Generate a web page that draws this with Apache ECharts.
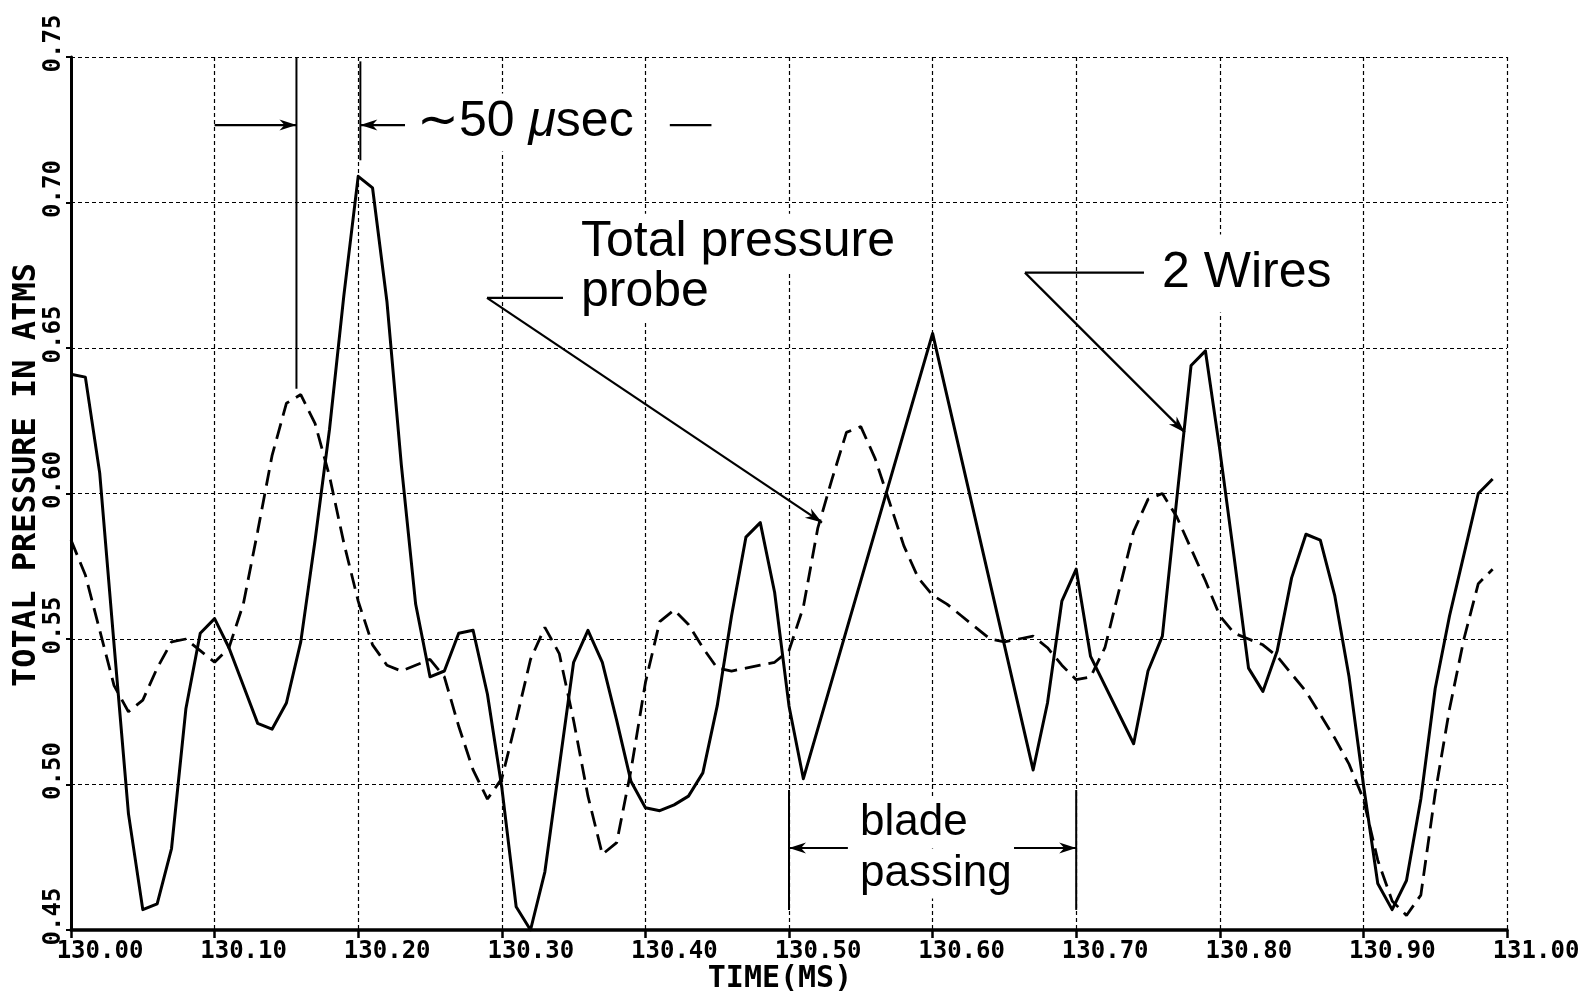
<!DOCTYPE html>
<html>
<head>
<meta charset="utf-8">
<script src="https://cdn.jsdelivr.net/npm/echarts@6/dist/echarts.min.js"></script>
<style>
  html, body { margin: 0; padding: 0; background: #fff; }
  #chart { width: 1583px; height: 995px; }
</style>
</head>
<body>
<div id="chart"></div>
<script>
// Hot-wire trace ("2 Wires"), time in ms and total pressure in atm
const wireTime = [
  130.00, 130.01, 130.02, 130.03, 130.04, 130.05, 130.06, 130.07, 130.08, 130.09,
  130.10, 130.11, 130.12, 130.13, 130.14, 130.15, 130.16, 130.17, 130.18, 130.19,
  130.20, 130.21, 130.22, 130.23, 130.24, 130.25, 130.26, 130.27, 130.28, 130.29,
  130.30, 130.31, 130.32, 130.33, 130.34, 130.35, 130.36, 130.37, 130.38, 130.39,
  130.40, 130.41, 130.42, 130.43, 130.44, 130.45, 130.46, 130.47, 130.48, 130.49,
  130.50, 130.51, 130.60, 130.67, 130.68, 130.69, 130.70, 130.71, 130.74, 130.75,
  130.76, 130.77, 130.78, 130.79, 130.80, 130.81, 130.82, 130.83, 130.84, 130.85,
  130.86, 130.87, 130.88, 130.89, 130.90, 130.91, 130.92, 130.93, 130.94, 130.95,
  130.96, 130.97, 130.98, 130.99
];
const wirePressure = [
  0.641, 0.640, 0.607, 0.548, 0.490, 0.457, 0.459, 0.478, 0.526, 0.552,
  0.557, 0.547, 0.534, 0.521, 0.519, 0.528, 0.549, 0.584, 0.622, 0.668,
  0.709, 0.705, 0.666, 0.610, 0.562, 0.537, 0.539, 0.552, 0.553, 0.531,
  0.499, 0.458, 0.450, 0.470, 0.506, 0.542, 0.553, 0.542, 0.522, 0.501,
  0.492, 0.491, 0.493, 0.496, 0.504, 0.527, 0.558, 0.585, 0.590, 0.566,
  0.527, 0.502, 0.655, 0.505, 0.528, 0.563, 0.574, 0.544, 0.514, 0.539,
  0.551, 0.598, 0.644, 0.649, 0.615, 0.578, 0.540, 0.532, 0.546, 0.571,
  0.586, 0.584, 0.565, 0.537, 0.500, 0.466, 0.457, 0.467, 0.495, 0.533,
  0.558, 0.579, 0.600, 0.605
];

// Total pressure probe trace
const probeTime = [
  130.00, 130.01, 130.02, 130.03, 130.04, 130.05, 130.06, 130.07, 130.08, 130.09,
  130.10, 130.11, 130.12, 130.13, 130.14, 130.15, 130.16, 130.17, 130.18, 130.19,
  130.20, 130.21, 130.22, 130.23, 130.24, 130.25, 130.26, 130.27, 130.28, 130.29,
  130.30, 130.31, 130.32, 130.33, 130.34, 130.35, 130.36, 130.37, 130.38, 130.39,
  130.40, 130.41, 130.42, 130.43, 130.44, 130.45, 130.46, 130.47, 130.48, 130.49,
  130.50, 130.51, 130.52, 130.53, 130.54, 130.55, 130.56, 130.57, 130.58, 130.59,
  130.60, 130.61, 130.62, 130.63, 130.64, 130.65, 130.66, 130.67, 130.68, 130.69,
  130.70, 130.71, 130.72, 130.73, 130.74, 130.75, 130.76, 130.77, 130.78, 130.79,
  130.80, 130.81, 130.82, 130.83, 130.84, 130.85, 130.86, 130.87, 130.88, 130.89,
  130.90, 130.91, 130.92, 130.93, 130.94, 130.95, 130.96, 130.97, 130.98, 130.99
];
const probePressure = [
  0.584, 0.572, 0.553, 0.534, 0.525, 0.529, 0.540, 0.549, 0.550, 0.546,
  0.542, 0.547, 0.562, 0.587, 0.613, 0.631, 0.634, 0.624, 0.606, 0.583,
  0.563, 0.548, 0.541, 0.539, 0.541, 0.543, 0.537, 0.520, 0.505, 0.495,
  0.502, 0.522, 0.543, 0.554, 0.545, 0.522, 0.496, 0.476, 0.480, 0.505,
  0.535, 0.556, 0.560, 0.555, 0.547, 0.540, 0.539, 0.540, 0.541, 0.542,
  0.546, 0.561, 0.588, 0.605, 0.621, 0.623, 0.612, 0.597, 0.582, 0.571,
  0.565, 0.562, 0.558, 0.554, 0.550, 0.549, 0.550, 0.551, 0.547, 0.541,
  0.536, 0.537, 0.547, 0.567, 0.587, 0.598, 0.600, 0.592, 0.581, 0.570,
  0.558, 0.552, 0.550, 0.548, 0.544, 0.538, 0.532, 0.524, 0.516, 0.507,
  0.495, 0.474, 0.460, 0.455, 0.462, 0.497, 0.526, 0.550, 0.569, 0.574
];

const timeRange = [130.00, 131.00];
const pressureRange = [0.45, 0.75];

const MONO = '"DejaVu Sans Mono", monospace';
const SANS = '"Liberation Sans", "DejaVu Sans", sans-serif';

const chart = echarts.init(document.getElementById('chart'), null, { renderer: 'canvas' });

const gridLine = { show: true, lineStyle: { color: '#000', width: 1.2, type: [4, 3] } };

chart.setOption({
  animation: false,
  backgroundColor: '#fff',
  grid: { left: 71, right: 76, top: 57, bottom: 65, containLabel: false, outerBoundsMode: 'none' },
  xAxis: {
    type: 'value',
    min: timeRange[0], max: timeRange[1], interval: 0.1,
    name: 'TIME(MS)',
    nameLocation: 'middle',
    nameGap: 34,
    nameMoveOverlap: false,
    nameTextStyle: { fontFamily: MONO, fontWeight: 'bold', fontSize: 30, color: '#000', padding: [0, 18, 0, 0] },
    axisLine: { show: true, onZero: false, lineStyle: { color: '#000', width: 3.5 } },
    axisTick: { show: true, inside: false, length: 8, lineStyle: { color: '#000', width: 2.5 } },
    axisLabel: {
      show: true, margin: 10, showMinLabel: true, showMaxLabel: true, hideOverlap: false,
      formatter: v => '{t|' + v.toFixed(2) + '}',
      rich: { t: { fontFamily: MONO, fontWeight: 'bold', fontSize: 24, color: '#000', padding: [0, 0, 0, 58] } }
    },
    splitLine: gridLine
  },
  yAxis: {
    type: 'value',
    min: pressureRange[0], max: pressureRange[1], interval: 0.05,
    name: 'TOTAL PRESSURE IN ATMS',
    nameLocation: 'middle',
    nameRotate: 90,
    nameGap: 28,
    nameMoveOverlap: false,
    nameTextStyle: { fontFamily: MONO, fontWeight: 'bold', fontSize: 32, color: '#000', padding: [0, 0, 0, 37] },
    axisLine: { show: true, onZero: false, lineStyle: { color: '#000', width: 3 } },
    axisTick: { show: true, inside: false, length: 5, lineStyle: { color: '#000', width: 2 } },
    axisLabel: {
      show: true, rotate: 90, margin: 5, showMinLabel: true, showMaxLabel: true, hideOverlap: false,
      formatter: v => '{t|' + v.toFixed(2) + '}',
      rich: { t: { fontFamily: MONO, fontWeight: 'bold', fontSize: 24, color: '#000', padding: [0, 0, 0, 27] } }
    },
    splitLine: gridLine
  },
  series: [
    {
      name: '2 Wires',
      type: 'line',
      data: wireTime.map((t, i) => [t, wirePressure[i]]),
      showSymbol: false,
      symbol: 'none',
      lineStyle: { color: '#000', width: 3, join: 'round' },
      z: 3
    },
    {
      name: 'Total pressure probe',
      type: 'line',
      data: probeTime.map((t, i) => [t, probePressure[i]]),
      showSymbol: false,
      symbol: 'none',
      lineStyle: { color: '#000', width: 2.8, type: [16, 8] },
      z: 3
    }
  ]
});

// ---- annotations, placed in data coordinates ----
const P = (x, y) => chart.convertToPixel({ xAxisIndex: 0, yAxisIndex: 0 }, [x, y]);

function seg(a, b, w) {
  return { type: 'line', z: 5, shape: { x1: a[0], y1: a[1], x2: b[0], y2: b[1] },
           style: { stroke: '#000', lineWidth: w || 2, lineCap: 'butt' } };
}
function head(from, to) {
  const dx = to[0] - from[0], dy = to[1] - from[1];
  const len = Math.hypot(dx, dy), ux = dx / len, uy = dy / len;
  const nx = -uy, ny = ux, L = 17, W = 5.5, N = 12;
  const t = to;
  return { type: 'polygon', z: 6, shape: { points: [
      [t[0], t[1]],
      [t[0] - ux * L + nx * W, t[1] - uy * L + ny * W],
      [t[0] - ux * N, t[1] - uy * N],
      [t[0] - ux * L - nx * W, t[1] - uy * L - ny * W]
    ] }, style: { fill: '#000' } };
}
function arrow(a, b, w) { return [seg(a, b, w), head(a, b)]; }
function label(text, x, y, size, extra) {
  return Object.assign({ type: 'text', z: 1, x: x, y: y,
    style: Object.assign({ text: text, fontFamily: SANS, fontSize: size, fill: '#000',
      align: 'left', verticalAlign: 'middle', textAlign: 'left', textVerticalAlign: 'middle',
      backgroundColor: '#fff', padding: [6, 8] }, extra || {}) });
}

function buildAnnotations() {
  const els = [];
  // ~50 microsecond delay between the probe peak and the wire peak
  const yArr = 0.7266;
  els.push(seg(P(130.157, 0.75), P(130.157, 0.636), 2));
  els.push(seg(P(130.2015, 0.7485), P(130.2015, 0.7145), 2));
  els.push(...arrow(P(130.10, yArr), P(130.157, yArr), 2.2));
  els.push(...arrow(P(130.2326, yArr), P(130.2015, yArr), 2.2));
  els.push(seg(P(130.417, yArr), P(130.446, yArr), 2.2));
  const p50 = P(130.2382, 0.7275);
  els.push(label('{n|\u223C50 }{m|\u03BC}{n|sec}', p50[0], p50[1], 50, {
    padding: [4, 4],
    rich: {
      n: { fontFamily: SANS, fontSize: 50, fill: '#000', color: '#000' },
      m: { fontFamily: SANS, fontSize: 50, fontStyle: 'italic', fill: '#000', color: '#000' }
    }
  }));

  // Total pressure probe label and leader
  const pt1 = P(130.351, 0.6862), pt2 = P(130.351, 0.6691);
  els.push(label('Total pressure', pt1[0], pt1[1], 50, { padding: [4, 6] }));
  els.push(label('probe', pt2[0], pt2[1], 50, { padding: [0, 6, 6, 6] }));
  const probeElbow = P(130.2897, 0.6672);
  els.push(seg(probeElbow, P(130.3426, 0.6672), 2.2));
  els.push(...arrow(probeElbow, P(130.523, 0.590), 2.2));

  // 2 Wires label and leader
  const pw = P(130.7542, 0.6756);
  els.push(label('2 Wires', pw[0], pw[1], 50, { padding: [14, 8] }));
  const wireElbow = P(130.6643, 0.6759);
  els.push(seg(wireElbow, P(130.7472, 0.6759), 2.2));
  els.push(...arrow(wireElbow, P(130.7756, 0.621), 2.2));

  // blade passing interval
  const yBlade = 0.4782;
  els.push(seg(P(130.50, 0.4981), P(130.50, 0.4569), 2));
  els.push(seg(P(130.70, 0.4981), P(130.70, 0.4569), 2));
  els.push(...arrow(P(130.541, yBlade), P(130.50, yBlade), 2));
  els.push(...arrow(P(130.6567, yBlade), P(130.70, yBlade), 2));
  const pb1 = P(130.5467, 0.4869), pb2 = P(130.5467, 0.4694);
  els.push(label('blade', pb1[0], pb1[1], 44, { padding: [6, 4, 0, 4] }));
  els.push(label('passing', pb2[0], pb2[1], 44, { padding: [0, 4, 6, 4] }));
  return els;
}

chart.setOption({ graphic: { elements: buildAnnotations() } });
</script>
</body>
</html>
